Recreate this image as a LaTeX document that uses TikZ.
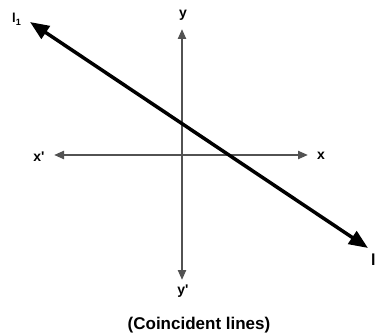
\documentclass[tikz,border=0pt]{standalone}
\usepackage{fontspec}
\setmainfont{Liberation Sans}
\usetikzlibrary{arrows.meta}
\begin{document}
\begin{tikzpicture}[x=1pt,y=-1pt,
  axis/.style={draw=black!68,line width=2.2pt,-{Triangle[length=10pt,width=8pt]}},
  mainline/.style={draw=black,line width=3.5pt,{Triangle[length=19pt,width=15pt]}-{Triangle[length=19pt,width=15pt]}},
  lbl/.style={font=\fontsize{14}{16}\selectfont\bfseries,inner sep=0pt}]
\useasboundingbox (0,0) rectangle (375,334);
\coordinate (O) at (182,155);
\coordinate (yt) at (182,29);
\coordinate (yb) at (182,280);
\coordinate (xl) at (54,155);
\coordinate (xr) at (308,155);
\coordinate (la) at (30,22);
\coordinate (lb) at (368,248);
\draw[axis] (O) -- (yt);
\draw[axis] (O) -- (yb);
\draw[axis] (O) -- (xl);
\draw[axis] (O) -- (xr);
\draw[mainline] (la) -- (lb);
\node[lbl] (ylab) at (183,15) {y};
\node[lbl] (yplab) at (183,291) {y\textquotesingle};
\node[lbl] (xplab) at (39,157) {x\textquotesingle};
\node[lbl] (xlab) at (321,156) {x};
\node[font=\fontsize{13}{15}\selectfont\bfseries,inner sep=0pt,anchor=base west] (l1) at (12,23) {l\textsubscript{1}};
\node[font=\fontsize{16}{18}\selectfont\bfseries,inner sep=0pt,anchor=base west] (l2) at (371,265) {l};
\node[font=\fontsize{17}{20}\selectfont\bfseries,inner sep=0pt] (cap) at (199,325) {(Coincident lines)};
\end{tikzpicture}
\end{document}
